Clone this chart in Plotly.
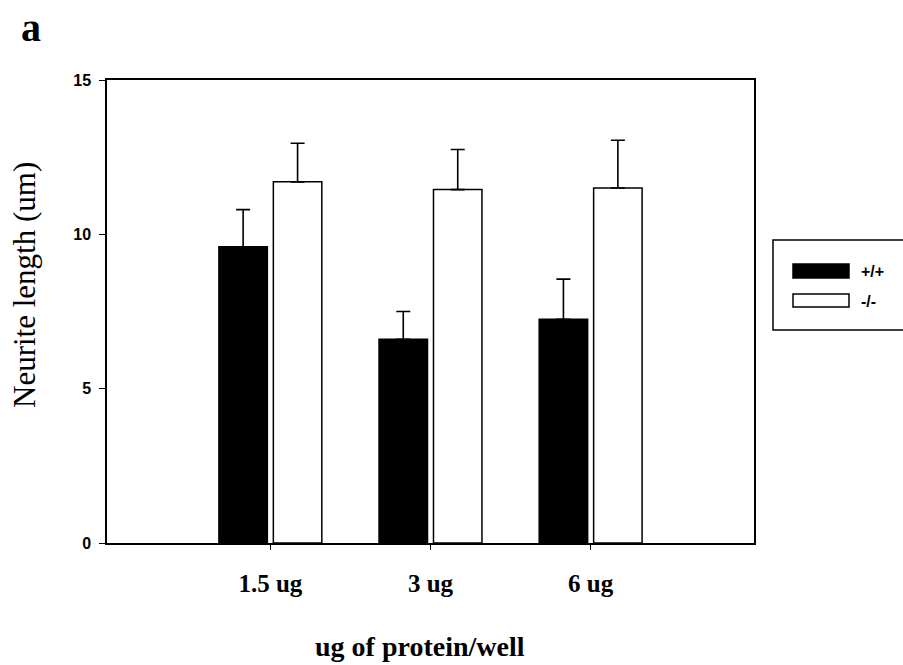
import plotly.graph_objects as go

categories = ["1.5 ug", "3 ug", "6 ug"]
wt_values = [9.6, 6.6, 7.25]
wt_err = [1.2, 0.9, 1.3]
ko_values = [11.7, 11.45, 11.5]
ko_err = [1.25, 1.3, 1.55]
series_names = ["+/+", "-/-"]
y_ticks = [0, 5, 10, 15]

W, H = 903, 665
L, R, T, B = 107, 754, 80, 543

def px(x):
    return (x - L) / (R - L)

def py(y):
    return (B - y) / (B - T)

fig = go.Figure()
fig.add_trace(go.Bar(
    x=list(range(len(categories))), y=wt_values, name=series_names[0],
    marker=dict(color="black", line=dict(color="black", width=1.5)),
    error_y=dict(type="data", array=wt_err, arrayminus=[0]*3, symmetric=False,
                 color="black", thickness=1.6, width=7),
    showlegend=False,
))
fig.add_trace(go.Bar(
    x=list(range(len(categories))), y=ko_values, name=series_names[1],
    marker=dict(color="white", line=dict(color="black", width=1.5)),
    error_y=dict(type="data", array=ko_err, arrayminus=[0]*3, symmetric=False,
                 color="black", thickness=1.6, width=7),
    showlegend=False,
))

serif = "Liberation Serif, Times New Roman, serif"
sans = "Liberation Sans, Arial, sans-serif"

fig.update_layout(
    width=W, height=H,
    margin=dict(l=L, r=W - R, t=T, b=H - B, autoexpand=False),
    paper_bgcolor="white", plot_bgcolor="white",
    barmode="group", bargap=0.32, bargroupgap=0.11,
    xaxis=dict(
        range=[-1.02, 3.02], tickmode="array",
        tickvals=list(range(len(categories))), ticktext=categories,
        ticks="outside", ticklen=5, tickwidth=1.2, tickcolor="black",
        showline=True, linecolor="black", linewidth=1.5, mirror=True,
        showgrid=False, zeroline=False,
        tickfont=dict(family=serif, size=25, color="black", weight="bold"),
        ticklabelstandoff=12,
    ),
    yaxis=dict(
        range=[0, 15], tickmode="array", tickvals=y_ticks,
        ticks="outside", ticklen=6, tickwidth=1.2, tickcolor="black",
        showline=True, linecolor="black", linewidth=1.5, mirror=True,
        showgrid=False, zeroline=False,
        tickfont=dict(family=sans, size=16, color="black", weight="bold"),
        ticklabelstandoff=5,
    ),
)

# axis titles and panel label
fig.add_annotation(text="Neurite length (um)", xref="paper", yref="paper",
                   x=px(24), y=py(285), textangle=-90, showarrow=False,
                   font=dict(family=serif, size=31, color="black"),
                   xanchor="center", yanchor="middle")
fig.add_annotation(text="<b>ug of protein/well</b>", xref="paper", yref="paper",
                   x=px(420), y=py(646), showarrow=False,
                   font=dict(family=serif, size=28, color="black"),
                   xanchor="center", yanchor="middle")
fig.add_annotation(text="<b>a</b>", xref="paper", yref="paper",
                   x=px(31), y=py(27), showarrow=False,
                   font=dict(family=serif, size=40, color="black"),
                   xanchor="center", yanchor="middle")

# legend box (custom)
fig.add_shape(type="rect", xref="paper", yref="paper",
              x0=px(773), x1=px(910), y0=py(240), y1=py(330),
              line=dict(color="black", width=1.5), fillcolor="white")
fig.add_shape(type="rect", xref="paper", yref="paper",
              x0=px(793), x1=px(849), y0=py(264), y1=py(278),
              line=dict(color="black", width=1.5), fillcolor="black")
fig.add_shape(type="rect", xref="paper", yref="paper",
              x0=px(793), x1=px(849), y0=py(294), y1=py(307),
              line=dict(color="black", width=1.5), fillcolor="white")
for name, yy in zip(series_names, [271, 301]):
    fig.add_annotation(text="<b>" + name + "</b>", xref="paper", yref="paper",
                       x=px(859), y=py(yy), showarrow=False,
                       font=dict(family=sans, size=16, color="black"),
                       xanchor="left", yanchor="middle")

fig.write_html("out.html")
